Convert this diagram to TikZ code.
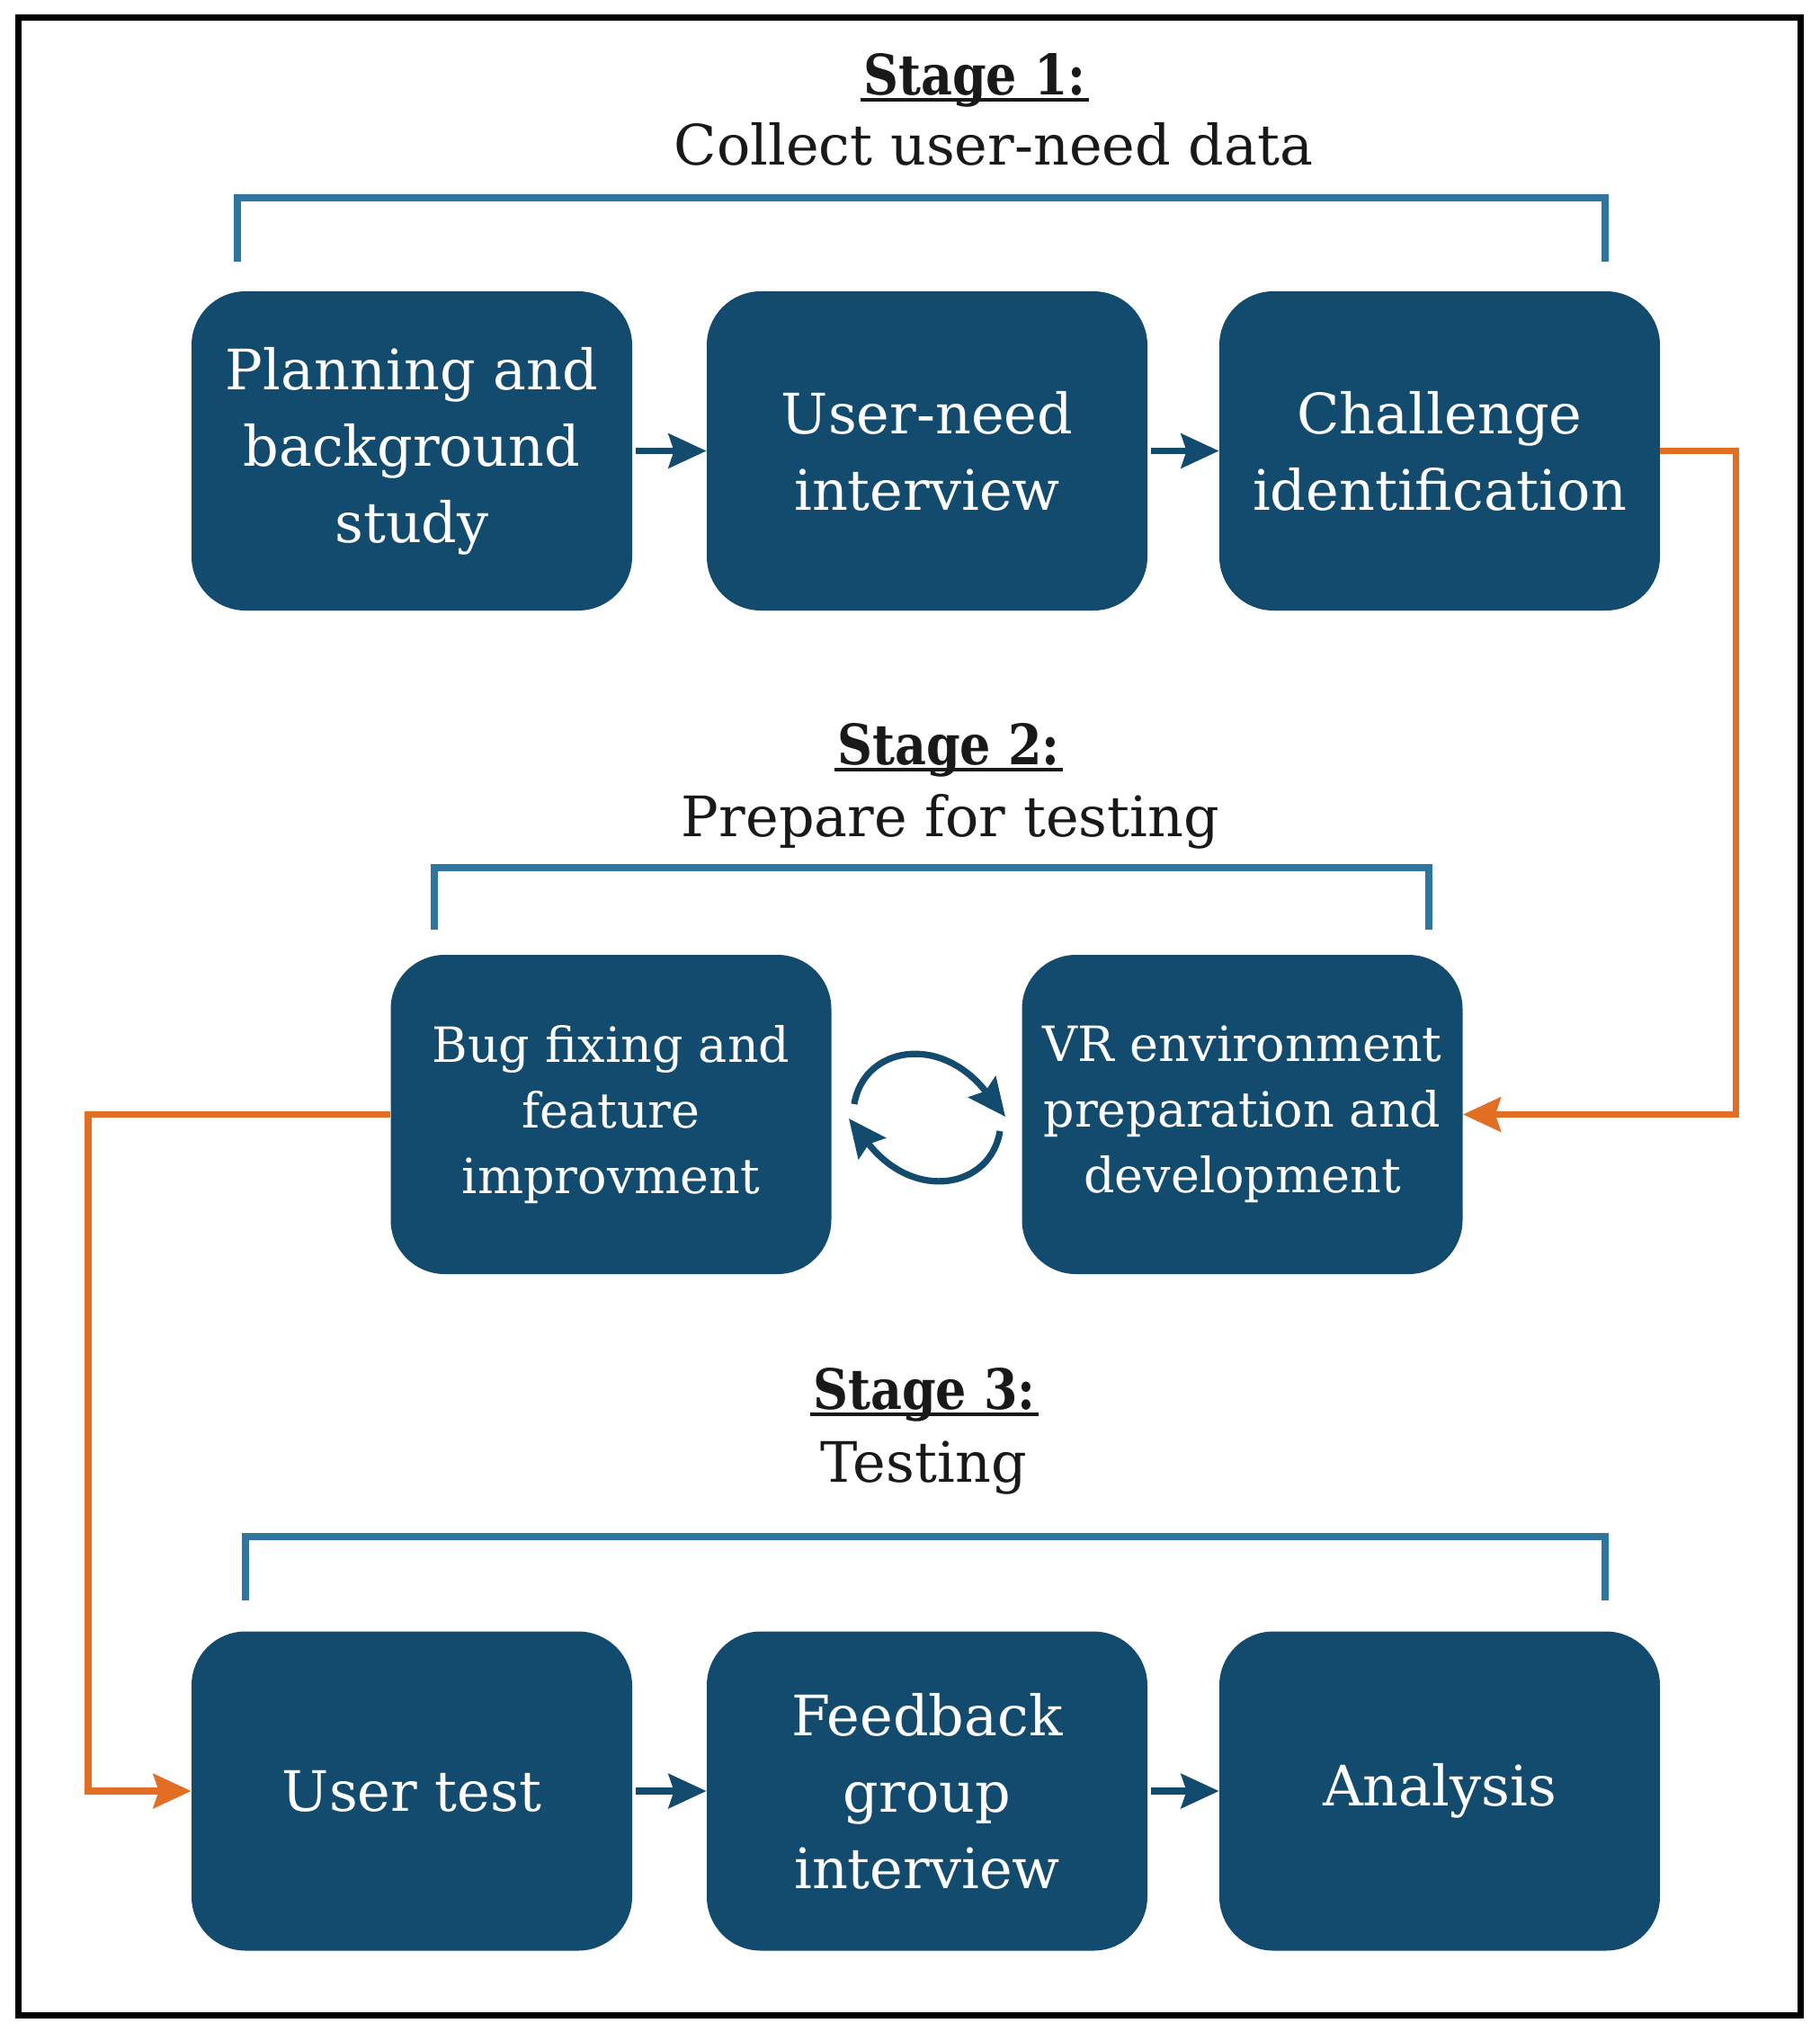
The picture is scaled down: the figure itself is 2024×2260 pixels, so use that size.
\documentclass[tikz,border=0pt]{standalone}
\usepackage{fontspec}
\setmainfont{DejaVu Serif}
\newfontfamily\titlefont[FakeStretch=0.87]{DejaVu Serif}
\usetikzlibrary{arrows.meta,calc}
\definecolor{boxblue}{RGB}{18,75,110}
\definecolor{brk}{RGB}{48,116,160}
\definecolor{orng}{RGB}{226,110,36}
\definecolor{ink}{RGB}{25,25,25}
\tikzset{
  stepbox/.style={draw=none, fill=boxblue, rounded corners=30pt,
    minimum width=245pt, minimum height=177.5pt, inner sep=0pt,
    align=center, text=white, font=\fontsize{31}{42.5}\selectfont},
  smallbox/.style={stepbox, font=\fontsize{27}{36.5}\selectfont},
  stagetitle/.style={anchor=base, inner sep=0pt, text=ink,
    font=\titlefont\bfseries\fontsize{31}{36}\selectfont},
  subtitle/.style={anchor=base, inner sep=0pt, text=ink,
    font=\fontsize{31}{36}\selectfont},
  bracketline/.style={draw=brk, line width=3.6pt},
  ulineline/.style={draw=ink, line width=2pt},
  flowarrow/.style={draw=boxblue, line width=3.8pt,
    -{Stealth[length=21pt,width=19pt,inset=3pt]}},
  feedarrow/.style={draw=orng, line width=3.8pt,
    -{Stealth[length=21pt,width=19pt,inset=3pt]}},
  cyclearrow/.style={draw=boxblue, line width=3.6pt,
    -{Stealth[length=21pt,width=19pt,inset=3pt]}},
}
\begin{document}
\begin{tikzpicture}[x=0.5pt,y=-0.5pt]
  \fill[white] (0,0) rectangle (2024,2260);
  \useasboundingbox (0,0) rectangle (2024,2260);
  \draw[line width=3.5pt, black] (20,19) rectangle (2002,2241);

  % titles
  \node[stagetitle] (s1) at (1084,105) {Stage 1:};
  \node[subtitle] (t1) at (1105,183) {Collect user-need data};
  \node[stagetitle] (s2) at (1055,850) {Stage 2:};
  \node[subtitle] (t2) at (1057,930) {Prepare for testing};
  \node[stagetitle] (s3) at (1028,1567) {Stage 3:};
  \node[subtitle] (t3) at (1027,1648) {Testing};
  \foreach \s in {s1,s2,s3}{
    \draw[ulineline] ($(\s.base west)+(-3,6)$) -- ($(\s.base east)+(3,6)$);
  }

  % brackets
  \draw[bracketline] (264,291) -- (264,220) -- (1785,220) -- (1785,291);
  \draw[bracketline] (483,1034) -- (483,965) -- (1589,965) -- (1589,1034);
  \draw[bracketline] (273,1780) -- (273,1709) -- (1785,1709) -- (1785,1780);

  % boxes
  \node[stepbox] (b1) at (458,501.5) {Planning and\\background\\study};
  \node[stepbox] (b2) at (1031,501.5) {User-need\\interview};
  \node[stepbox] (b3) at (1601,501.5) {Challenge\\identification};
  \node[smallbox] (b4) at (679.5,1239.5) {Bug fixing and\\feature\\improvment};
  \node[smallbox] (b5) at (1381.5,1239.5) {VR environment\\preparation and\\development};
  \node[stepbox] (b6) at (458,1992) {User test};
  \node[stepbox] (b7) at (1031,1992) {Feedback\\group\\interview};
  \node[stepbox] (b8) at (1601,1992) {Analysis};

  % flow arrows
  \draw[flowarrow, shorten <=2pt] (b1) -- (b2);
  \draw[flowarrow, shorten <=2pt] (b2) -- (b3);
  \draw[flowarrow, shorten <=2pt] (b6) -- (b7);
  \draw[flowarrow, shorten <=2pt] (b7) -- (b8);

  % feedback connectors
  \draw[feedarrow] (b3.east) -- ++(84,0) |- (b5.east);
  \draw[feedarrow] (b4.west) -- ++(-336,0) |- (b6.west);

  % cycle symbol
  \draw[cyclearrow] (950,1228) .. controls (960,1165) and (1045,1148) .. (1118,1242);
  \draw[cyclearrow] (1112,1258) .. controls (1102,1321) and (1017,1338) .. (944,1244);
\end{tikzpicture}
\end{document}
